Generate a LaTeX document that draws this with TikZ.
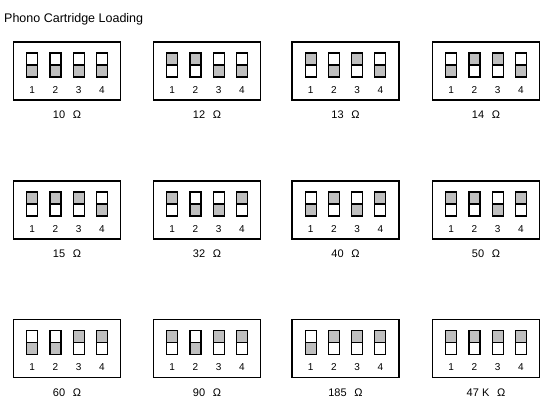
\documentclass[tikz,border=0pt]{standalone}
\usepackage{fontspec}
\setmainfont{Liberation Sans}
\usetikzlibrary{positioning}

\begin{document}
\begin{tikzpicture}[x=1pt, y=-1pt,
  panel/.style={draw, line width=1.1pt, minimum width=107pt, minimum height=58pt, inner sep=0pt},
  lever/.style={draw, line width=1.2pt},
  knob/.style={fill=gray!50},
  num/.style={font=\fontsize{10}{10}\selectfont, inner sep=0pt},
  ohm/.style={font=\fontsize{11}{12}\selectfont, inner sep=0pt}]
\useasboundingbox (0,0) rectangle (550,406);
\node[anchor=base west, font=\fontsize{12.5}{14}\selectfont, inner sep=0pt] (title) at (4,23) {Phono Cartridge Loading};
% one panel per load value; 1 = lever up, 0 = lever down
\foreach \cx/\cy/\a/\b/\c/\d/\val [count=\k] in {
    67/71/0/0/0/0/10, 207/71/1/1/0/0/12, 345.5/71/1/0/1/0/13, 486/71/0/1/1/0/14,
    67/210/1/1/1/0/15, 207/210/1/0/0/1/32, 345.5/210/0/1/0/1/40, 486/210/1/1/0/1/50,
    67/348.5/0/0/1/1/60, 207/348.5/1/0/1/1/90, 345.5/348.5/0/1/1/1/185, 486/348.5/1/1/1/1/47 K} {
  \node[panel] (p\k) at (\cx,\cy) {};
  \foreach \s [count=\j] in {\a,\b,\c,\d} {
    \fill[knob] ({\cx+(\j-2.5)*23.2-5.5},{\cy-18+(1-\s)*12}) rectangle ++(11,12);
    \draw[lever] ({\cx+(\j-2.5)*23.2-5.5},{\cy-18}) rectangle ++(11,24)
      ({\cx+(\j-2.5)*23.2-5.5},{\cy-6}) -- ++(11,0);
    \node[num] (n\k-\j) at ({\cx+(\j-2.5)*23.2},{\cy+19}) {\j};
  }
  \node[ohm] (v\k) at (\cx,{\cy+44}) {\val\hspace{0.7em}Ω};
}
\end{tikzpicture}
\end{document}
